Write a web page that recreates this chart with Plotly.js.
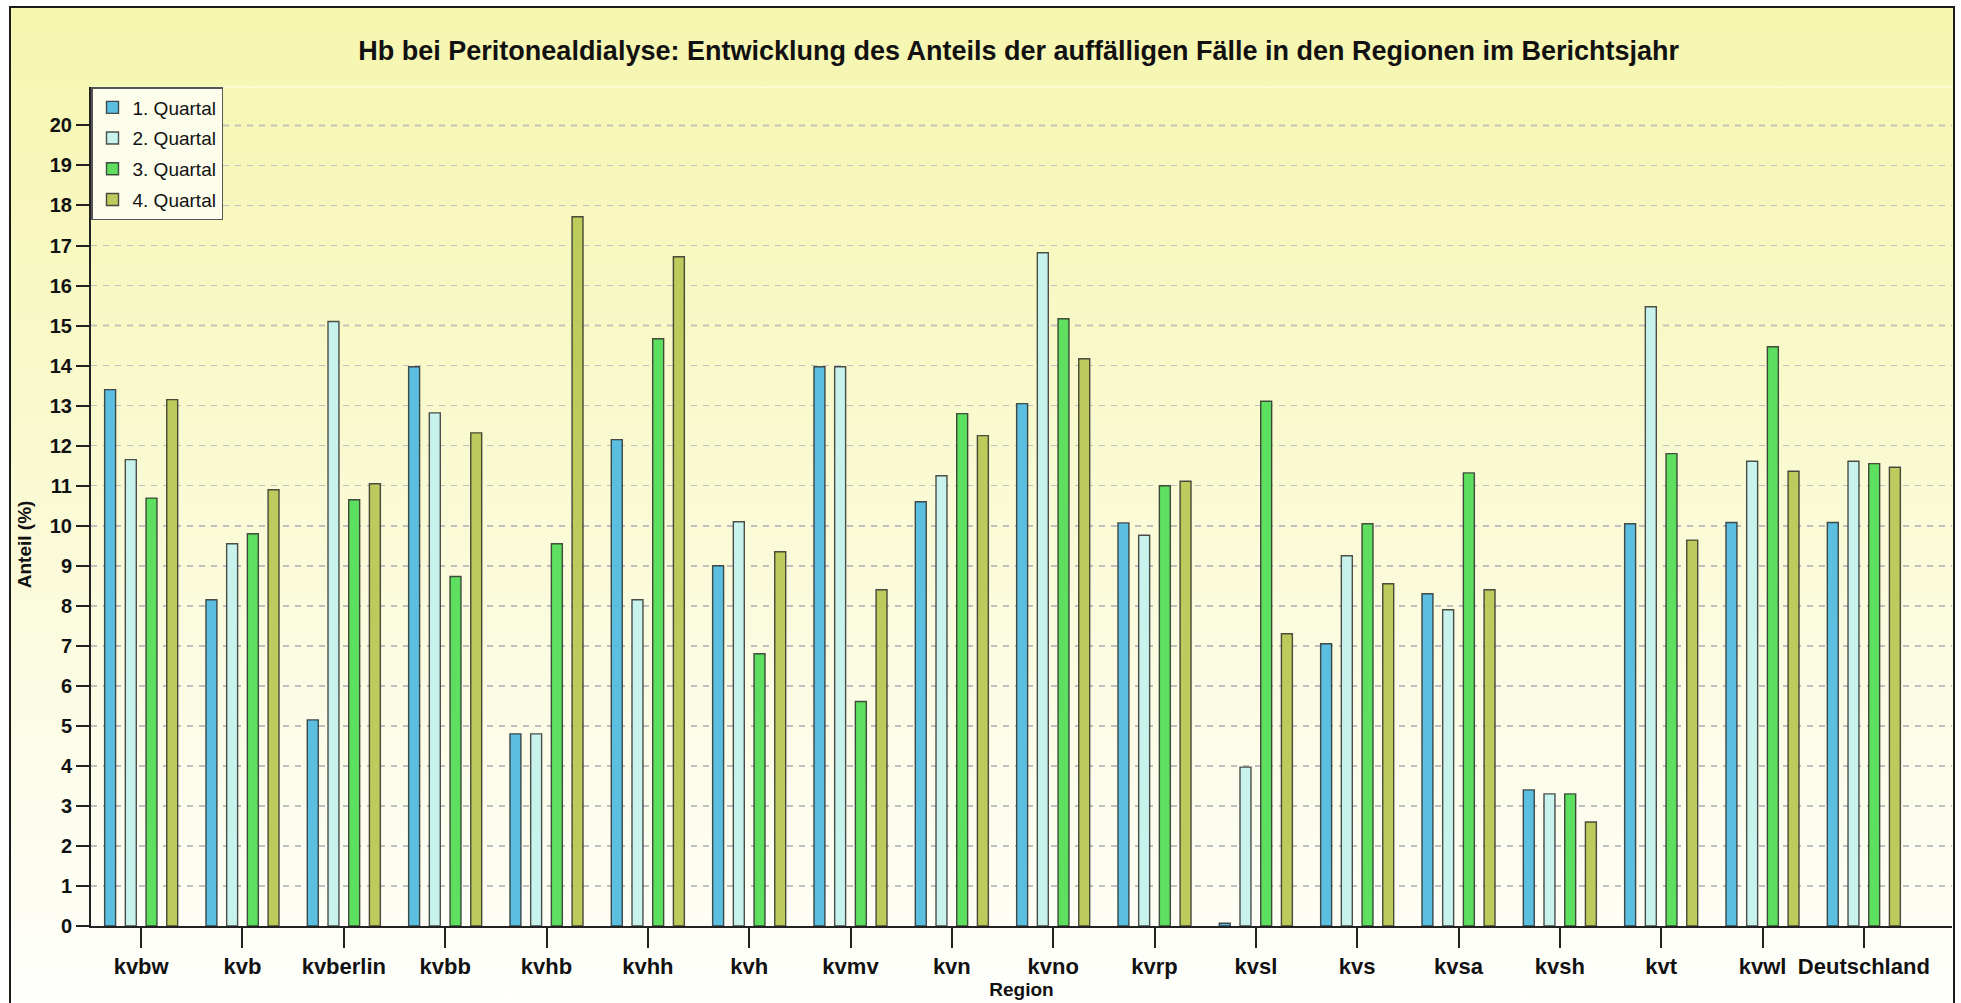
<!DOCTYPE html>
<html>
<head>
<meta charset="utf-8">
<script src="https://cdn.plot.ly/plotly-3.0.1.min.js"></script>
<style>
  html, body { margin: 0; padding: 0; width: 1961px; height: 1003px; overflow: hidden; background: #ffffff; }
  #frame {
    position: absolute; left: 9px; top: 6px; width: 1942px; height: 1020px;
    border: 2.5px solid #1c1c1c;
    background: linear-gradient(to bottom, #f6f6b0 0%, #f8f8c2 25%, #fafad6 50%, #fcfce8 72%, #fefef6 90%, #ffffff 100%);
  }
  #chart { position: absolute; left: 0; top: 0; width: 1961px; height: 1003px; }
</style>
</head>
<body>
<div id="frame"></div>
<div id="chart"></div>
<script>
const regions = ['kvbw','kvb','kvberlin','kvbb','kvhb','kvhh','kvh','kvmv','kvn','kvno','kvrp','kvsl','kvs','kvsa','kvsh','kvt','kvwl','Deutschland'];
const seriesNames = ['1. Quartal','2. Quartal','3. Quartal','4. Quartal'];
const q1 = [13.40, 8.15, 5.15, 13.97, 4.80, 12.15, 9.00, 13.97, 10.60, 13.05, 10.07, 0.07, 7.05, 8.30, 3.40, 10.05, 10.08, 10.08];
const q2 = [11.65, 9.55, 15.10, 12.82, 4.80, 8.15, 10.10, 13.97, 11.25, 16.82, 9.76, 3.97, 9.25, 7.90, 3.30, 15.47, 11.61, 11.61];
const q3 = [10.69, 9.80, 10.65, 8.73, 9.55, 14.67, 6.80, 5.61, 12.80, 15.17, 11.00, 13.11, 10.05, 11.32, 3.30, 11.80, 14.47, 11.55];
const q4 = [13.15, 10.90, 11.05, 12.32, 17.72, 16.72, 9.35, 8.40, 12.25, 14.17, 11.11, 7.30, 8.55, 8.40, 2.60, 9.64, 11.36, 11.46];
const yTicks = [0,1,2,3,4,5,6,7,8,9,10,11,12,13,14,15,16,17,18,19,20];
const majorGrid = [5,10,15,20];

const colors = ['#5cbfe0', '#c8f3ed', '#5fdf5f', '#bdcb5c'];
const values = [q1, q2, q3, q4];
const FONT = 'Liberation Sans, Arial, Helvetica, sans-serif';

const traces = values.map((v, i) => ({
  type: 'bar',
  name: seriesNames[i],
  x: regions,
  y: v,
  legendgroup: 'g' + i,
  marker: { color: colors[i], line: { color: 'rgba(35,35,35,0.8)', width: 1.4 } },
  hoverinfo: 'x+y+name'
}));

const shapes = majorGrid.map(v => ({
  type: 'line', xref: 'paper', x0: 0, x1: 1, yref: 'y', y0: v, y1: v,
  line: { color: '#9a9a9a', width: 1.6, dash: '6px,6px' }, layer: 'below'
}));
shapes.push({
  type: 'line', xref: 'paper', x0: 0, x1: 1, yref: 'paper', y0: 1, y1: 1,
  line: { color: 'rgba(255,255,255,0.8)', width: 1.2 }, layer: 'below'
});

const layout = {
  width: 1961, height: 1003,
  margin: { l: 91, r: 9, t: 87, b: 77 },
  paper_bgcolor: 'rgba(0,0,0,0)',
  plot_bgcolor: 'rgba(0,0,0,0)',
  font: { family: FONT, color: '#111111' },
  title: {
    text: 'Hb bei Peritonealdialyse: Entwicklung des Anteils der auffälligen Fälle in den Regionen im Berichtsjahr',
    font: { family: FONT, size: 27, weight: 'bold', color: '#111111' },
    x: 0.5195, xref: 'container', xanchor: 'center',
    y: 0.95, yref: 'container', yanchor: 'middle'
  },
  barmode: 'group',
  bargap: 0.183,
  bargroupgap: 0.47,
  showlegend: true,
  legend: {
    x: 0, xref: 'paper', xanchor: 'left',
    y: 1, yref: 'paper', yanchor: 'top',
    bgcolor: 'rgba(253,253,238,0.95)',
    bordercolor: '#555555', borderwidth: 1.5,
    font: { family: FONT, size: 19, color: '#111111' },
    tracegroupgap: 3,
    itemwidth: 30,
    traceorder: 'grouped'
  },
  xaxis: {
    type: 'category',
    range: [-0.495, 17.87],
    showgrid: false,
    showline: true, linecolor: '#222222', linewidth: 2,
    ticks: 'outside', ticklen: 20, tickwidth: 2, tickcolor: '#222222',
    tickfont: { family: FONT, size: 22, weight: 'bold', color: '#111111' },
    title: { text: 'Region', font: { family: FONT, size: 19, weight: 'bold', color: '#111111' }, standoff: 4 },
    automargin: false,
    fixedrange: true
  },
  yaxis: {
    range: [0, 20.96],
    tickmode: 'array', tickvals: yTicks, ticktext: yTicks.map(String),
    showgrid: true, gridcolor: '#c0c0c0', gridwidth: 1.6, griddash: '6px,6px',
    zeroline: false,
    showline: true, linecolor: '#222222', linewidth: 2,
    ticks: 'outside', ticklen: 13, tickwidth: 2, tickcolor: '#222222',
    tickfont: { family: FONT, size: 20, weight: 'bold', color: '#111111' },
    automargin: false,
    fixedrange: true
  },
  annotations: [{
    text: 'Anteil (%)', textangle: -90, showarrow: false,
    xref: 'paper', x: 0, xshift: -67, xanchor: 'center',
    yref: 'paper', y: 0.455, yanchor: 'middle',
    font: { family: FONT, size: 19, weight: 'bold', color: '#111111' }
  }],
  shapes: shapes
};

Plotly.newPlot('chart', traces, layout, { displayModeBar: false, staticPlot: true });
</script>
</body>
</html>
